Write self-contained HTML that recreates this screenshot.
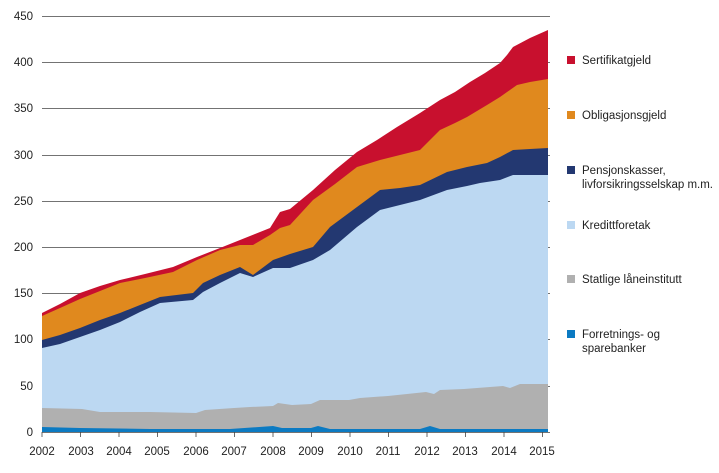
<!DOCTYPE html>
<html><head><meta charset="utf-8"><style>
body{margin:0;background:#fff;font-family:"Liberation Sans",sans-serif;}
svg text{font-family:"Liberation Sans",sans-serif;font-size:11.5px;fill:#222}
</style></head><body>
<svg width="719" height="468" viewBox="0 0 719 468" xmlns="http://www.w3.org/2000/svg">
<g stroke="#444" stroke-width="0.8">
<line x1="42" y1="16.5" x2="550" y2="16.5"/><line x1="42" y1="62.5" x2="550" y2="62.5"/>
<line x1="42" y1="108.5" x2="550" y2="108.5"/><line x1="42" y1="155.5" x2="550" y2="155.5"/>
<line x1="42" y1="201.5" x2="550" y2="201.5"/><line x1="42" y1="247.5" x2="550" y2="247.5"/>
<line x1="42" y1="293.5" x2="550" y2="293.5"/><line x1="42" y1="339.5" x2="550" y2="339.5"/>
<line x1="42" y1="386.5" x2="550" y2="386.5"/>
</g>
<polygon fill="#c8102e" points="42,313 60,304 80,293 100,286 120,280 145,274 173,267 197,257 220,248 240,240 255,234 270,228 280,212 290,209 313,190 335,170 357,152 377,140 397,127 420,113 440,100 455,92 470,82 485,73 500,63 507,55 513,47 530,38 548,30 548,432 42,432"/>
<polygon fill="#e0891e" points="42,316 60,308 80,299 100,291 120,283 145,278 173,272 197,260 220,250 240,245 253,245 270,235 280,228 290,225 313,200 335,184 357,167 380,160 400,155 420,150 440,130 455,123 467,117 487,105 500,97 517,85 530,82 548,79 548,432 42,432"/>
<polygon fill="#233871" points="42,340 60,335 80,328 100,320 120,313 140,305 160,297 193,293 203,283 220,275 240,267 253,275 273,260 290,254 313,247 330,227 357,207 380,190 400,188 420,185 447,172 467,167 487,163 500,157 513,150 530,149 548,148 548,432 42,432"/>
<polygon fill="#bcd8f2" points="42,348 60,344 80,337 100,330 120,322 140,312 160,303 193,300 203,292 220,283 240,273 253,277 273,268 290,268 313,260 330,250 357,227 380,210 400,205 420,200 447,190 467,186 480,183 500,180 513,175 530,175 548,175 548,432 42,432"/>
<polygon fill="#b0b0b0" points="42,408 82,409 100,412 150,412 196,413 205,410 234,408 250,407 273,406 278,403 292,405 311,404 320,400 349,400 360,398 388,396 426,392 434,394 440,390 464,389 503,386 510,388 520,384 548,384 548,432 42,432"/>
<polygon fill="#0b7ac2" points="42,427 80,428 150,429 230,429 273,426 282,428 311,428 318,426 330,429 420,429 430,426 440,429 548,429 548,432 42,432"/>
<line x1="42" y1="432.5" x2="550" y2="432.5" stroke="#444" stroke-width="0.8"/>
<g stroke="#444" stroke-width="0.8">
<line x1="42" y1="432" x2="42" y2="437"/><line x1="80.5" y1="432" x2="80.5" y2="437"/><line x1="119" y1="432" x2="119" y2="437"/><line x1="157.5" y1="432" x2="157.5" y2="437"/><line x1="196" y1="432" x2="196" y2="437"/><line x1="234.5" y1="432" x2="234.5" y2="437"/><line x1="273" y1="432" x2="273" y2="437"/><line x1="311.5" y1="432" x2="311.5" y2="437"/><line x1="350" y1="432" x2="350" y2="437"/><line x1="388.5" y1="432" x2="388.5" y2="437"/><line x1="427" y1="432" x2="427" y2="437"/><line x1="465.5" y1="432" x2="465.5" y2="437"/><line x1="504" y1="432" x2="504" y2="437"/><line x1="542.5" y1="432" x2="542.5" y2="437"/>
</g>
<g text-anchor="end">
<text x="33" y="20">450</text><text x="33" y="66">400</text><text x="33" y="112">350</text><text x="33" y="159">300</text><text x="33" y="205">250</text><text x="33" y="251">200</text><text x="33" y="297">150</text><text x="33" y="343">100</text><text x="33" y="390">50</text><text x="33" y="436">0</text>
</g>
<g text-anchor="middle">
<text x="42" y="455">2002</text><text x="81" y="455">2003</text><text x="119" y="455">2004</text><text x="157" y="455">2005</text><text x="196" y="455">2006</text><text x="234" y="455">2007</text><text x="273" y="455">2008</text><text x="311" y="455">2009</text><text x="350" y="455">2010</text><text x="388" y="455">2011</text><text x="427" y="455">2012</text><text x="465" y="455">2013</text><text x="504" y="455">2014</text><text x="542" y="455">2015</text>
</g>
<rect x="567" y="56" width="8" height="8" fill="#c8102e"/><text x="582" y="64">Sertifikatgjeld</text>
<rect x="567" y="111" width="8" height="8" fill="#e0891e"/><text x="582" y="119">Obligasjonsgjeld</text>
<rect x="567" y="166" width="8" height="8" fill="#233871"/><text x="582" y="174">Pensjonskasser,</text><text x="582" y="188">livforsikringsselskap m.m.</text>
<rect x="567" y="221" width="8" height="8" fill="#bcd8f2"/><text x="582" y="229">Kredittforetak</text>
<rect x="567" y="275" width="8" height="8" fill="#b0b0b0"/><text x="582" y="283">Statlige låneinstitutt</text>
<rect x="567" y="330" width="8" height="8" fill="#0b7ac2"/><text x="582" y="338">Forretnings- og</text><text x="582" y="352">sparebanker</text>
</svg>
</body></html>
